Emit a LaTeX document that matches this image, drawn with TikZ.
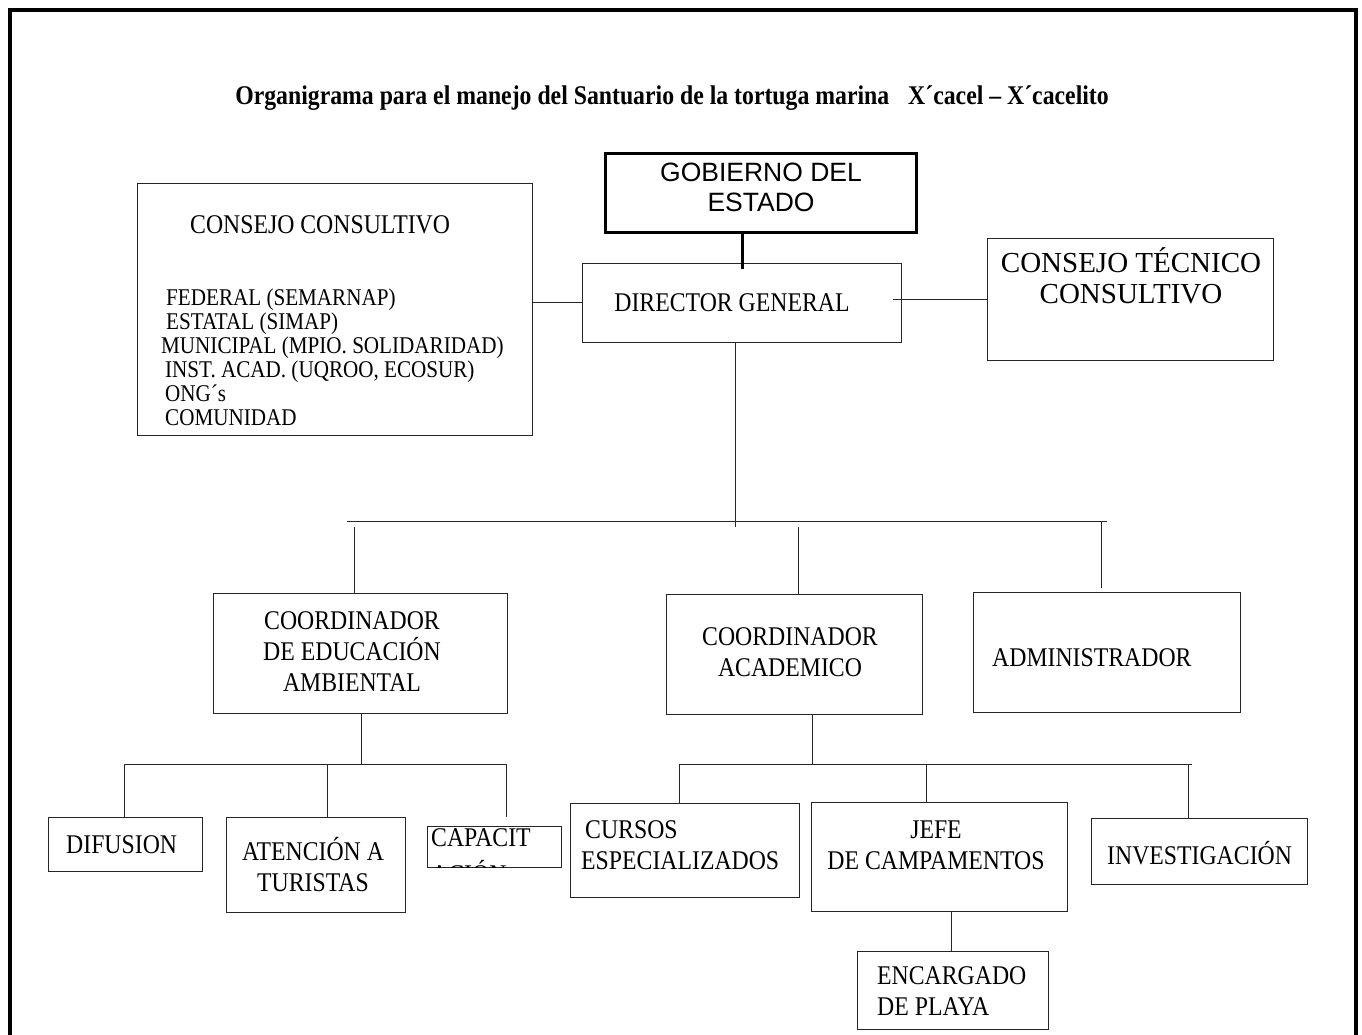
\documentclass[tikz,border=0pt]{standalone}
\usepackage{fontspec}
\setmainfont{Liberation Serif}[FakeStretch=0.88]
\newfontfamily\anchafont{Liberation Serif}
\newfontfamily\gobfont{Liberation Sans}
\usetikzlibrary{positioning,fit}

\begin{document}
\begin{tikzpicture}[x=1pt,y=-1pt,
        caja/.style={draw=black!85, line width=0.9pt, inner sep=0pt},
        cajagruesa/.style={draw=black, line width=3pt, inner sep=0pt},
        rama/.style={draw=black!85, line width=0.9pt},
        gruesa/.style={draw=black, line width=3pt},
        texto/.style={inner sep=0pt, align=center, font=\fontsize{27}{31}\selectfont}]
        \useasboundingbox (0,0) rectangle (1362,1034);
        \clip (0,0) rectangle (1362,1034);
        % Marco
        \draw[line width=3.5pt] (10,1045) -- (10,10) -- (1356,10) -- (1356,1045);
        % Titulo
        \node[inner sep=0pt, anchor=base, font=\bfseries\fontsize{27}{30}\selectfont] (titulo) at (672,104.5)
            {Organigrama para el manejo del Santuario de la tortuga marina\hspace{0.7em}X´cacel – X´cacelito};
        % Cajas
        \node[cajagruesa, fit={(605,153) (916,232)}] (gob) {};
        \node[caja, fit={(137,183) (532,435)}]   (cc)  {};
        \node[caja, fit={(582,263) (901,342)}]   (dg)  {};
        \node[caja, fit={(987,238) (1273,360)}]  (ct)  {};
        \node[caja, fit={(213,593) (507,713)}]   (cea) {};
        \node[caja, fit={(666,594) (922,714)}]   (cac) {};
        \node[caja, fit={(973,592) (1240,712)}]  (adm) {};
        \node[caja, fit={(48,817) (202,871)}]    (dif) {};
        \node[caja, fit={(226,817) (405,912)}]   (ate) {};
        \node[caja, fit={(427,826) (561,867)}]   (cap) {};
        \node[caja, fit={(570,803) (799,897)}]   (cur) {};
        \node[caja, fit={(811,802) (1067,911)}]  (jef) {};
        \node[caja, fit={(857,951) (1048,1029)}] (enc) {};
        \node[caja, fit={(1091,818) (1307,884)}] (inv) {};
        % Textos
        \node[texto, anchor=south, font=\gobfont\fontsize{26.5}{30}\selectfont] (gobtxt) at (761,212) {GOBIERNO DEL\\ESTADO};
        \node[texto, anchor=base west] (cctit) at (190,233) {CONSEJO CONSULTIVO};
        \node[inner sep=0pt, anchor=south west, align=left, font=\fontsize{24}{24}\selectfont] (cclista) at (161,426)
            {\hspace*{5pt}FEDERAL (SEMARNAP)\\ \hspace*{5pt}ESTATAL (SIMAP)\\ MUNICIPAL (MPIO. SOLIDARIDAD)\\
             \hspace*{4pt}INST. ACAD. (UQROO, ECOSUR)\\ \hspace*{4pt}ONG´s\\ \hspace*{4pt}COMUNIDAD};
        \node[texto, anchor=base] (dgtxt) at (732,311.6) {DIRECTOR GENERAL};
        \node[texto, anchor=south, font=\anchafont\fontsize{29}{31}\selectfont] (cttxt) at (1131,304.6) {CONSEJO TÉCNICO\\CONSULTIVO};
        \node[texto, anchor=south] (ceatxt) at (352,691.6) {COORDINADOR\\DE EDUCACIÓN\\AMBIENTAL};
        \node[texto, anchor=south] (cactxt) at (790,676.6) {COORDINADOR\\ACADEMICO};
        \node[texto, anchor=base west] (admtxt) at (992,666.6) {ADMINISTRADOR};
        \node[texto, anchor=base west] (diftxt) at (66,853.6) {DIFUSION};
        \node[texto, anchor=south] (atetxt) at (313,891.6) {ATENCIÓN A\\TURISTAS};
        \begin{scope}
            \clip (cap.south west) rectangle (cap.north east);
            \node[texto, anchor=north west, align=left, font=\fontsize{27}{37}\selectfont] (captxt) at (431,828.5) {CAPACIT\\ACIÓN};
        \end{scope}
        \node[texto, anchor=south west, align=left] (curtxt) at (581,869.6) {\hspace*{4pt}CURSOS\\ESPECIALIZADOS};
        \node[texto, anchor=south] (jeftxt) at (936,869.6) {JEFE\\DE CAMPAMENTOS};
        \node[texto, anchor=south west, align=left] (enctxt) at (877,1015.6) {ENCARGADO\\DE PLAYA};
        \node[texto, anchor=base west] (invtxt) at (1107,864.6) {INVESTIGACIÓN};
        % Conectores
        \coordinate (g1) at (742,269);
        \draw[gruesa] (gob.south -| g1) -- (g1);
        \draw[rama] (cc.east |- dg.west) -- (dg.west);
        \coordinate (d1) at (893,299);
        \draw[rama] (d1) -- (ct.west);
        \coordinate (b0) at (735,527);
        \draw[rama] (dg.south -| b0) -- (b0);
        \coordinate (b1i) at (347,521);
        \coordinate (b1d) at (1107,521);
        \draw[rama] (b1i) -- (b1d);
        \coordinate (c1) at (354,527);
        \draw[rama] (c1) -- (cea.north -| c1);
        \coordinate (c2) at (798,527);
        \draw[rama] (c2) -- (cac.north -| c2);
        \coordinate (c3) at (1101,521);
        \coordinate (c3f) at (1101,588);
        \draw[rama] (c3) -- (c3f);
        % Rama educacion ambiental
        \coordinate (e0) at (361,765);
        \draw[rama] (cea.south -| e0) -- (e0);
        \coordinate (e1) at (124,764);
        \coordinate (e2) at (506,764);
        \coordinate (e2f) at (506,817);
        \draw[rama] (dif.north -| e1) -- (e1) -- (e2) -- (e2f);
        \coordinate (e3) at (327,764);
        \draw[rama] (e3) -- (ate.north -| e3);
        % Rama academica
        \coordinate (f0) at (812,764);
        \draw[rama] (cac.south -| f0) -- (f0);
        \coordinate (f1) at (679,764);
        \coordinate (f2) at (1192,764);
        \draw[rama] (cur.north -| f1) -- (f1) -- (f2);
        \coordinate (f3) at (926,764);
        \draw[rama] (f3) -- (jef.north -| f3);
        \coordinate (f4) at (1188,764);
        \draw[rama] (f4) -- (inv.north -| f4);
        \coordinate (h1) at (951,0);
        \draw[rama] (jef.south -| h1) -- (enc.north -| h1);
\end{tikzpicture}
\end{document}
